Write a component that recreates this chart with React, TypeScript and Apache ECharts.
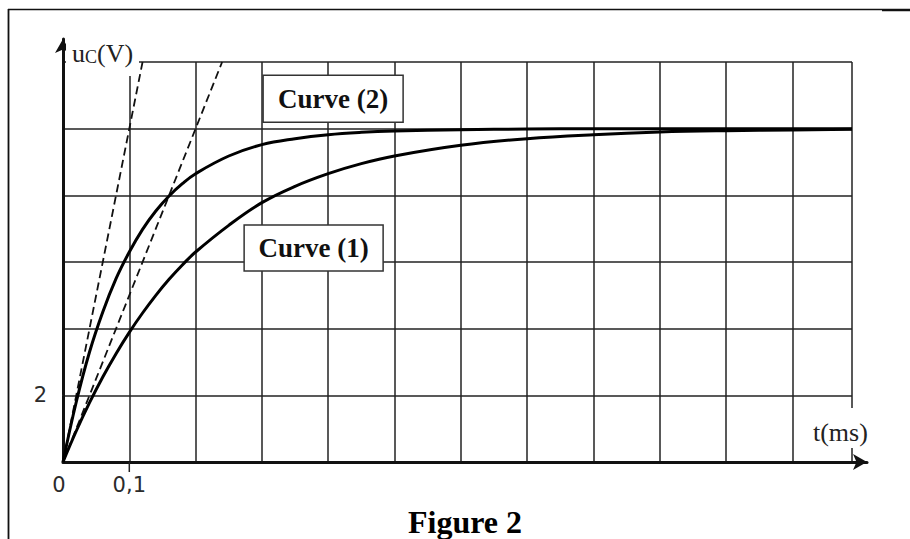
import { useEffect, useRef } from 'react';
import * as echarts from 'echarts';

// Charging voltage of the capacitor, u_C (V), against time t (ms)
const timeMs = [0, 0.02, 0.04, 0.06, 0.08, 0.1, 0.12, 0.14, 0.16, 0.18, 0.2, 0.25, 0.3, 0.35, 0.4, 0.45, 0.5, 0.6, 0.7, 0.8, 0.9, 1.0, 1.1, 1.19];
const curve2Volts = [0, 1.8, 3.3, 4.5, 5.5, 6.3, 6.98, 7.53, 7.98, 8.35, 8.65, 9.18, 9.52, 9.7, 9.82, 9.89, 9.93, 9.97, 9.99, 10, 10, 10, 10, 10];
const curve1Volts = [0, 0.93, 1.78, 2.55, 3.25, 3.89, 4.47, 5.0, 5.48, 5.91, 6.3, 7.1, 7.78, 8.27, 8.65, 8.95, 9.18, 9.5, 9.7, 9.82, 9.9, 9.94, 9.96, 9.98];

// Tangents at the origin (dashed)
const tangent2 = [[0, 0], [0.12, 12]];
const tangent1 = [[0, 0], [0.24, 12]];

// Labelled ticks
const xTickValues = [0, 0.1];
const xTickTexts = ['0', '0,1'];
const yTickValues = [2];
const yTickTexts = ['2'];

// Small tick marks drawn outside the paper
const xTickMark = [[0.1, 0], [0.1, -0.3]];
const yTickMark = [[0, 2], [-0.012, 2]];

const X_MAX = 1.19;
const Y_MAX = 12;

const SERIF = '"Liberation Serif", "Times New Roman", serif';
const SANS = '"DejaVu Sans", Verdana, sans-serif';
const INK = '#111';
const GRID_INK = '#222';
const LABEL_INK = '#2b2b2b';

const pair = (xs: number[], ys: number[]) => xs.map((x, i) => [x, ys[i]]);

export default function App() {
  const ref = useRef<HTMLDivElement>(null);

  useEffect(() => {
    if (!ref.current) return;
    const chart = echarts.init(ref.current, null, { renderer: 'svg' });

    const tickSeries = (name: string, data: number[][]) => ({
      name,
      type: 'line',
      xAxisIndex: 0,
      yAxisIndex: 0,
      data,
      clip: false,
      showSymbol: false,
      silent: true,
      lineStyle: { color: GRID_INK, width: 1.5 },
      z: 2,
    });

    const curveSeries = (name: string, values: number[]) => ({
      name,
      type: 'line',
      xAxisIndex: 0,
      yAxisIndex: 0,
      data: pair(timeMs, values),
      smooth: 0.4,
      showSymbol: false,
      lineStyle: { color: '#000', width: 3 },
      z: 4,
    });

    const tangentSeries = (name: string, data: number[][]) => ({
      name,
      type: 'line',
      xAxisIndex: 0,
      yAxisIndex: 0,
      data,
      showSymbol: false,
      lineStyle: { color: INK, width: 1.8, type: [8, 4.5] },
      z: 3,
    });

    const arrowAxis = (gridIndex: number) => ({
      type: 'value',
      gridIndex,
      min: 0,
      max: 1,
      axisLine: {
        show: true,
        symbol: ['none', 'arrow'],
        symbolSize: [12, 14],
        lineStyle: { color: INK, width: 3 },
      },
      axisTick: { show: false },
      axisLabel: { show: false },
      splitLine: { show: false },
    });

    chart.setOption({
      animation: false,
      backgroundColor: '#fff',
      grid: [
        // squared paper
        { left: 63, top: 62, width: 789, height: 400, outerBoundsMode: 'none', containLabel: false },
        // arrowed axes, a little longer than the paper
        { left: 63, top: 39, width: 804, height: 423, outerBoundsMode: 'none', containLabel: false },
      ],
      xAxis: [
        {
          type: 'value',
          gridIndex: 0,
          min: 0,
          max: X_MAX,
          interval: 0.1,
          axisLine: { show: false },
          axisTick: { show: false },
          axisLabel: {
            margin: 12,
            color: LABEL_INK,
            fontFamily: SANS,
            fontSize: 21,
            lineHeight: 22,
            formatter: (v: number) => {
              const i = xTickValues.findIndex((t) => Math.abs(t - v) < 1e-9);
              if (i < 0) return '';
              return i === 0 ? `{o|${xTickTexts[i]}}` : xTickTexts[i];
            },
            rich: {
              o: { fontFamily: SANS, fontSize: 21, color: LABEL_INK, padding: [0, 8, 0, 0] },
            },
          },
          splitLine: { show: true, lineStyle: { color: GRID_INK, width: 1.5 } },
        },
        arrowAxis(1),
      ],
      yAxis: [
        {
          type: 'value',
          gridIndex: 0,
          min: 0,
          max: Y_MAX,
          interval: 2,
          axisLine: { show: false },
          axisTick: { show: false },
          axisLabel: {
            margin: 16,
            color: LABEL_INK,
            fontFamily: SANS,
            fontSize: 21,
            formatter: (v: number) => {
              const i = yTickValues.findIndex((t) => Math.abs(t - v) < 1e-9);
              return i < 0 ? '' : yTickTexts[i];
            },
          },
          splitLine: { show: true, lineStyle: { color: GRID_INK, width: 1.5 } },
        },
        arrowAxis(1),
      ],
      series: [
        tickSeries('tick t', xTickMark),
        tickSeries('tick u', yTickMark),
        tangentSeries('tangent (2)', tangent2),
        tangentSeries('tangent (1)', tangent1),
        curveSeries('Curve (2)', curve2Volts),
        curveSeries('Curve (1)', curve1Volts),
      ],
    });

    const px = (x: number, y: number) => chart.convertToPixel({ gridIndex: 0 }, [x, y]) as number[];

    const boxedLabel = (text: string, at: number[], w: number, h: number) => ({
      type: 'group',
      x: at[0],
      y: at[1],
      z: 100,
      children: [
        {
          type: 'rect',
          shape: { x: -w / 2, y: -h / 2, width: w, height: h },
          style: { fill: '#fff', stroke: '#333', lineWidth: 1.5 },
          z: 100,
        },
        {
          type: 'text',
          x: 0,
          y: 0,
          style: {
            text,
            fill: INK,
            font: `bold 27px ${SERIF}`,
            align: 'center',
            verticalAlign: 'middle',
          },
          z: 101,
        },
      ],
    });

    const c2 = px(0.4074, 10.9);
    const c1 = px(0.378, 6.42);
    const tName = px(1.1725, 0.9);
    const uName = px(0.0136, 12.27);

    chart.setOption({
      graphic: [
        // page frame
        { type: 'line', shape: { x1: 8, y1: 9.5, x2: 882, y2: 9.5 }, style: { stroke: '#111', lineWidth: 1.5 }, z: 90 },
        { type: 'line', shape: { x1: 882, y1: 10, x2: 910, y2: 10 }, style: { stroke: '#111', lineWidth: 2.5 }, z: 90 },
        { type: 'line', shape: { x1: 8.5, y1: 9, x2: 8.5, y2: 539 }, style: { stroke: '#111', lineWidth: 1.8 }, z: 90 },
        boxedLabel('Curve (2)', c2, 140, 47),
        boxedLabel('Curve (1)', c1, 139, 46),
        // axis names on white patches
        {
          type: 'group',
          x: uName[0],
          y: uName[1],
          z: 100,
          children: [
            { type: 'rect', shape: { x: -6, y: -17, width: 73, height: 40 }, style: { fill: '#fff' }, z: 100 },
            {
              type: 'text',
              x: 0,
              y: 0,
              style: {
                text: '{a|u}{b|C}{a|(V)}',
                fill: '#222',
                verticalAlign: 'middle',
                align: 'left',
                rich: {
                  a: { fontFamily: SERIF, fontSize: 26, fill: '#222', lineHeight: 26 },
                  b: { fontFamily: SERIF, fontSize: 18, fill: '#222', lineHeight: 18, verticalAlign: 'bottom' },
                },
              },
              z: 101,
            },
          ],
        },
        {
          type: 'group',
          x: tName[0],
          y: tName[1],
          z: 100,
          children: [
            { type: 'rect', shape: { x: -30, y: -24, width: 60, height: 40 }, style: { fill: '#fff' }, z: 100 },
            {
              type: 'text',
              x: 0,
              y: 0,
              style: {
                text: 't(ms)',
                fill: '#222',
                font: `26px ${SERIF}`,
                align: 'center',
                verticalAlign: 'middle',
              },
              z: 101,
            },
          ],
        },
        {
          type: 'text',
          x: 465,
          y: 522,
          z: 100,
          style: {
            text: 'Figure 2',
            fill: '#000',
            font: `bold 32px ${SERIF}`,
            align: 'center',
            verticalAlign: 'middle',
          },
        },
      ],
    });

    return () => chart.dispose();
  }, []);

  return (
    <div
      ref={ref}
      style={{ position: 'fixed', left: 0, top: 0, width: 910, height: 539, background: '#fff' }}
    />
  );
}
